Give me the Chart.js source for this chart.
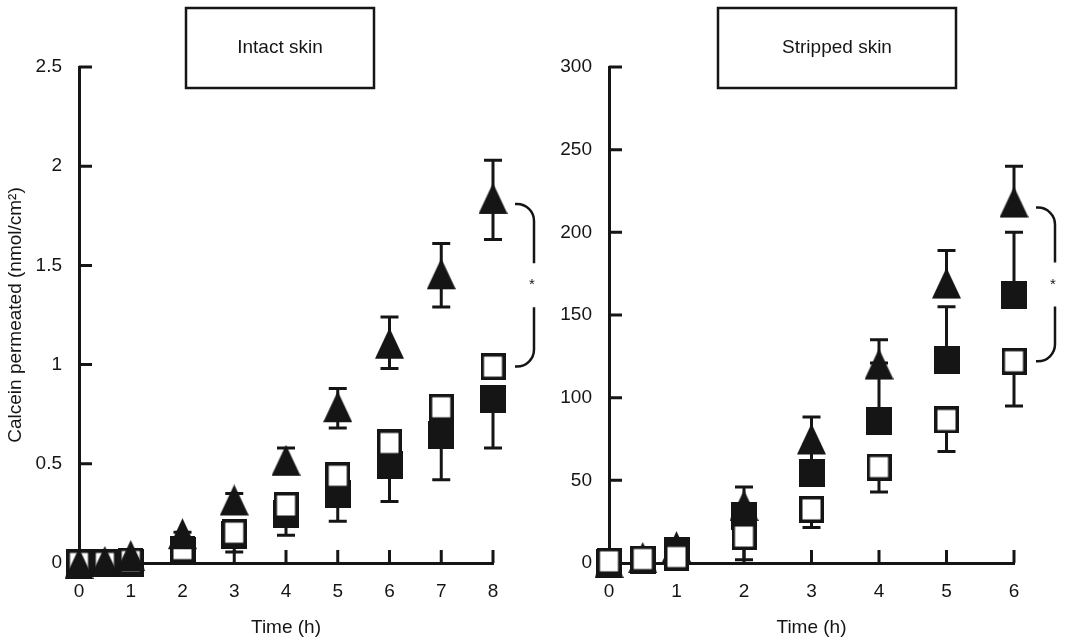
<!DOCTYPE html>
<html>
<head>
<meta charset="utf-8">
<script src="https://cdn.jsdelivr.net/npm/chart.js@4.4.1/dist/chart.umd.min.js"></script>
<style>
  html, body { margin: 0; padding: 0; background: #fff; }
  #wrap { position: relative; width: 1073px; height: 644px; }
  #intact { position: absolute; left: 0; top: 0; }
  #stripped { position: absolute; left: 536px; top: 0; }
</style>
</head>
<body>
<div id="wrap">
  <canvas id="intact" width="536" height="644"></canvas>
  <canvas id="stripped" width="537" height="644"></canvas>
</div>
<script>
// intact skin
const timesIntact = [0, 0.5, 1, 2, 3, 4, 5, 6, 7, 8]
const triIntact    = [-0.03, -0.02, 0.01, 0.12, 0.29, 0.49, 0.76, 1.08, 1.43, 1.81]
const triIntactUp  = [0, 0, 0, 0.035, 0.06, 0.09, 0.12, 0.16, 0.18, 0.22]
const triIntactLow = [0, 0, 0, 0, 0, 0, 0.08, 0.10, 0.14, 0.18]
const openIntact   = [0, 0, 0.01, 0.07, 0.153, 0.29, 0.44, 0.605, 0.785, 0.99]
const filledIntact    = [0, 0, 0, 0.06, 0.14, 0.245, 0.35, 0.495, 0.645, 0.825]
const filledIntactLow = [0, 0, 0, 0, 0.085, 0.105, 0.14, 0.185, 0.225, 0.245]
const yTicksIntact = [0, 0.5, 1, 1.5, 2, 2.5]

// stripped skin
const timesStripped = [0, 0.5, 1, 2, 3, 4, 5, 6]
const openStripped    = [1, 2.4, 3.6, 16, 32.4, 58, 86.5, 122]
const openStrippedLow = [0, 0, 0, 14, 11, 15, 19, 27]
const triStripped   = [-3, 0, 6.6, 31.5, 71.7, 117, 166, 215]
const triStrippedUp = [0, 0, 0, 14.5, 16.6, 18, 23, 25]
const filledStripped   = [0, 2, 7.5, 28.5, 54.7, 86, 123, 162]
const filledStrippedUp = [0, 0, 0, 0, 17, 35, 32, 38]
const yTicksStripped = [0, 50, 100, 150, 200, 250, 300]

const INK = '#151515'
const FAMILY = '"Liberation Sans", Arial, Helvetica, sans-serif'
const FONT = { family: FAMILY, size: 19 }

function marker(kind) {
  const c = document.createElement('canvas')
  const g = c.getContext('2d')
  g.fillStyle = INK
  if (kind === 'tri') {
    // canvas centre sits on the triangle's centroid
    c.width = 29; c.height = 42
    g.fillStyle = INK
    g.beginPath()
    g.moveTo(14.5, 0); g.lineTo(29, 31); g.lineTo(0, 31)
    g.closePath(); g.fill()
  } else if (kind === 'filled') {
    c.width = 26; c.height = 28
    g.fillStyle = INK
    g.fillRect(0, 0, 26, 28)
  } else {
    c.width = 25; c.height = 27
    g.fillStyle = '#fff'
    g.fillRect(0, 0, 25, 27)
    g.strokeStyle = INK; g.lineWidth = 3.5
    g.strokeRect(1.75, 1.75, 21.5, 23.5)
  }
  return c
}

function pts(xs, ys) {
  return xs.map((x, i) => ({ x: x, y: ys[i] }))
}

function series(xs, ys, kind, up, low) {
  return {
    data: pts(xs, ys),
    pointStyle: marker(kind),
    pointRadius: 14,
    pointHoverRadius: 14,
    clip: false,
    errUp: up,
    errLow: low
  }
}

const innerTicks = {
  id: 'innerTicks',
  beforeDatasetsDraw(chart) {
    const { ctx, chartArea: a, scales: { x, y } } = chart
    ctx.save()
    ctx.strokeStyle = INK
    ctx.lineWidth = 3
    ctx.beginPath()
    y.ticks.forEach(t => {
      const p = y.getPixelForValue(t.value)
      ctx.moveTo(a.left, p); ctx.lineTo(a.left + 13, p)
    })
    x.ticks.forEach(t => {
      const p = x.getPixelForValue(t.value)
      ctx.moveTo(p, a.bottom); ctx.lineTo(p, a.bottom - 13)
    })
    ctx.stroke()
    ctx.restore()
  }
}

const errorBars = {
  id: 'errorBars',
  beforeDatasetsDraw(chart) {
    const ctx = chart.ctx
    const ys = chart.scales.y
    ctx.save()
    ctx.strokeStyle = INK
    ctx.lineWidth = 3
    chart.data.datasets.forEach((ds, i) => {
      const meta = chart.getDatasetMeta(i)
      meta.data.forEach((pt, j) => {
        const v = ds.data[j].y
        const ends = []
        if (ds.errUp && ds.errUp[j]) ends.push(v + ds.errUp[j])
        if (ds.errLow && ds.errLow[j]) ends.push(v - ds.errLow[j])
        ends.forEach(e => {
          const py = ys.getPixelForValue(e)
          ctx.beginPath()
          ctx.moveTo(pt.x, pt.y); ctx.lineTo(pt.x, py)
          ctx.moveTo(pt.x - 9, py); ctx.lineTo(pt.x + 9, py)
          ctx.stroke()
        })
      })
    })
    ctx.restore()
  }
}

const panelDecor = {
  id: 'panelDecor',
  afterDraw(chart, args, opts) {
    const ctx = chart.ctx
    ctx.save()
    ctx.strokeStyle = INK
    ctx.lineWidth = 2.5
    ctx.strokeRect(opts.box[0], 8, opts.box[1] - opts.box[0], 80)
    ctx.fillStyle = INK
    ctx.font = '19px ' + FAMILY
    ctx.textAlign = 'center'
    ctx.textBaseline = 'middle'
    ctx.fillText(opts.label, (opts.box[0] + opts.box[1]) / 2, 48)

    // significance bracket between the last points of two series
    const top = chart.getDatasetMeta(opts.bracket[0]).data.at(-1)
    const bot = chart.getDatasetMeta(opts.bracket[1]).data.at(-1)
    const x0 = top.x + 22, xv = top.x + 41, r = 17
    const mid = (top.y + bot.y) / 2
    ctx.lineWidth = 2.5
    ctx.beginPath()
    ctx.moveTo(x0, top.y)
    ctx.arcTo(xv, top.y, xv, top.y + r, r)
    ctx.lineTo(xv, mid - 22)
    ctx.moveTo(xv, mid + 22)
    ctx.lineTo(xv, bot.y - r)
    ctx.arcTo(xv, bot.y, x0, bot.y, r)
    ctx.lineTo(x0, bot.y)
    ctx.stroke()
    ctx.font = '15px ' + FAMILY
    ctx.fillText('*', xv - 2, mid)
    ctx.restore()
  }
}

function scales(xMax, yTicks, yWidth, yPad, yTitle) {
  return {
    x: {
      type: 'linear', min: 0, max: xMax,
      grid: { display: false, drawTicks: false },
      border: { display: true, width: 3, color: INK },
      ticks: { stepSize: 1, padding: 17, color: INK, font: FONT, maxRotation: 0, autoSkip: false },
      title: { display: true, text: 'Time (h)', color: INK, font: FONT, padding: { top: 0, bottom: 5 } },
      afterFit: s => { s.height = 81 }
    },
    y: {
      type: 'linear', min: yTicks[0], max: yTicks[yTicks.length - 1],
      grid: { display: false, drawTicks: false },
      border: { display: true, width: 3, color: INK },
      ticks: {
        stepSize: yTicks[1] - yTicks[0], padding: yPad, color: INK, font: FONT,
        callback: v => String(v)
      },
      title: { display: !!yTitle, text: yTitle || '', color: INK, font: FONT, padding: { top: 4, bottom: 0 } },
      afterFit: s => { s.width = yWidth }
    }
  }
}

function baseOptions(sc, padRight, decor) {
  return {
    responsive: false,
    animation: false,
    events: [],
    layout: { padding: { left: 0, top: 67, right: padRight, bottom: 0 } },
    scales: sc,
    plugins: {
      legend: { display: false },
      tooltip: { enabled: false },
      panelDecor: decor
    }
  }
}

new Chart(document.getElementById('intact'), {
  type: 'scatter',
  data: {
    datasets: [
      series(timesIntact, triIntact, 'tri', triIntactUp, triIntactLow),
      series(timesIntact, openIntact, 'open', null, null),
      series(timesIntact, filledIntact, 'filled', null, filledIntactLow)
    ]
  },
  options: baseOptions(
    scales(8, yTicksIntact, 79, 17, 'Calcein permeated (nmol/cm²)'),
    43,
    { label: 'Intact skin', box: [186, 374], bracket: [0, 1] }
  ),
  plugins: [innerTicks, errorBars, panelDecor]
})

new Chart(document.getElementById('stripped'), {
  type: 'scatter',
  data: {
    datasets: [
      series(timesStripped, openStripped, 'open', null, openStrippedLow),
      series(timesStripped, triStripped, 'tri', triStrippedUp, null),
      series(timesStripped, filledStripped, 'filled', filledStrippedUp, null)
    ]
  },
  options: baseOptions(
    scales(6, yTicksStripped, 73, 17, null),
    59,
    { label: 'Stripped skin', box: [182, 420], bracket: [1, 0] }
  ),
  plugins: [innerTicks, errorBars, panelDecor]
})
</script>
</body>
</html>
